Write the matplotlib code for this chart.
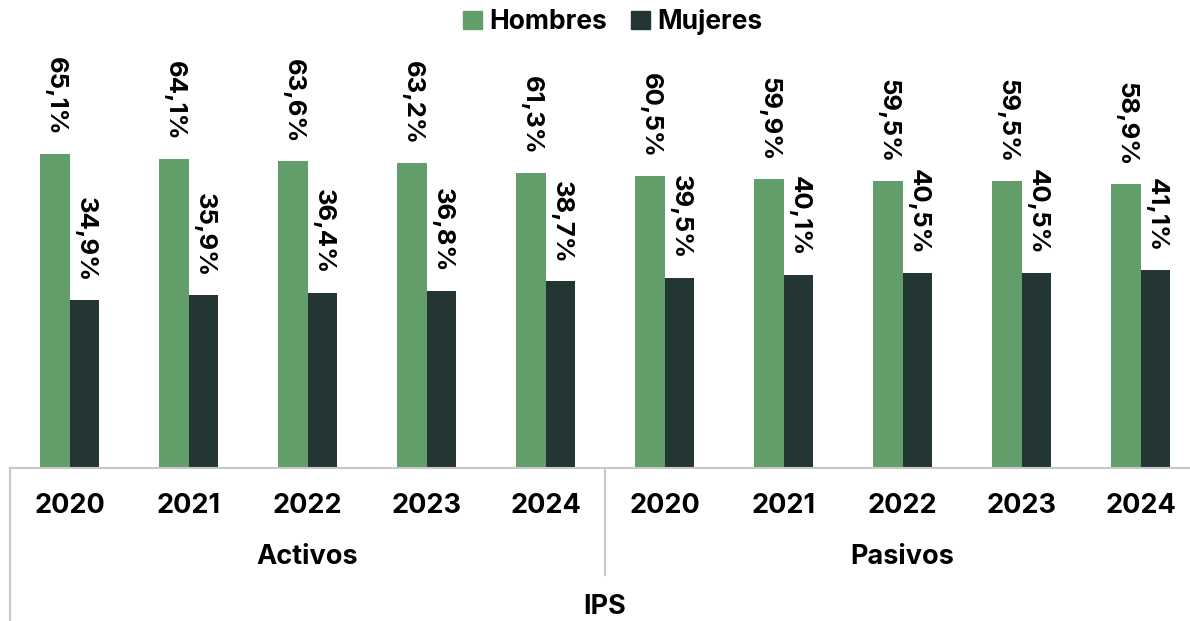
import matplotlib
matplotlib.use("Agg")
import matplotlib.pyplot as plt
import matplotlib.transforms as mtransforms
from matplotlib.lines import Line2D
from matplotlib.patches import Patch

plt.rcParams["font.family"] = ["Inter", "DejaVu Sans"]
plt.rcParams["font.weight"] = "bold"

# Data
years = ["2020", "2021", "2022", "2023", "2024"]
groups = ["Activos", "Pasivos"]
top_label = "IPS"
hombres = [65.1, 64.1, 63.6, 63.2, 61.3, 60.5, 59.9, 59.5, 59.5, 58.9]
mujeres = [34.9, 35.9, 36.4, 36.8, 38.7, 39.5, 40.1, 40.5, 40.5, 41.1]

C_H = "#629E69"
C_M = "#233633"
C_LINE = "#C8C8C8"

W, H = 1190, 621
fig = plt.figure(figsize=(W / 100, H / 100), dpi=100)


def fx(px):
    return px / W


def fy(py):
    return 1 - py / H


# axes: baseline at y=468 px, top at 40 px, x from 10 to 1200 px
ax = fig.add_axes([fx(10), fy(468), 1190 / W, (468 - 40) / H])
n = len(hombres)
x = list(range(n))
bw = 0.244
xh = [i - bw / 2 for i in x]
xm = [i + bw / 2 for i in x]
ax.bar(xh, hombres, width=bw, color=C_H, label="Hombres")
ax.bar(xm, mujeres, width=bw, color=C_M, label="Mujeres")
ax.set_xlim(-0.5, n - 0.5)
ax.set_ylim(0, 88.8)
ax.set_xticks([])
ax.set_yticks([])
for s in ["top", "left", "right"]:
    ax.spines[s].set_visible(False)
ax.spines["bottom"].set_color(C_LINE)
ax.spines["bottom"].set_linewidth(1.5)


def fmt(v):
    return f"{v:.1f}".replace(".", ",") + "%"


for xi, v in zip(xh, hombres):
    ax.annotate(fmt(v), (xi, v), xytext=(0, 18), textcoords="offset pixels",
                rotation=270, ha="center", va="bottom", fontsize=18.5,
                fontweight="bold", color="black")
for xi, v in zip(xm, mujeres):
    ax.annotate(fmt(v), (xi, v), xytext=(1, 18), textcoords="offset pixels",
                rotation=270, ha="center", va="bottom", fontsize=18.5,
                fontweight="bold", color="black")

# multi-level category axis
blend = mtransforms.blended_transform_factory(ax.transData, fig.transFigure)
labels = years + years
for i, lab in enumerate(labels):
    ax.text(i, fy(506), lab, transform=blend, ha="center", va="center",
            fontsize=19.5, fontweight="bold")

for gi, g in enumerate(groups):
    cx = gi * len(years) + (len(years) - 1) / 2
    ax.text(cx, fy(557), g, transform=blend, ha="center", va="center",
            fontsize=19.5, fontweight="bold")
ax.text((n - 1) / 2, fy(607), top_label, transform=blend, ha="center",
        va="center", fontsize=19.5, fontweight="bold")

# separators
for xs, ybot in [(-0.5, H), (len(years) - 0.5, 575), (n - 0.5, H)]:
    ax.add_line(Line2D([xs, xs], [fy(468), fy(ybot)], transform=blend,
                       color=C_LINE, linewidth=1.5, clip_on=False))

handles = [Patch(color=C_H, label="Hombres"), Patch(color=C_M, label="Mujeres")]
fig.legend(handles=handles, loc="center", bbox_to_anchor=(fx(613), fy(22)),
           ncol=2, frameon=False, handlelength=0.7,
           handleheight=0.7, handletextpad=0.3, columnspacing=0.9,
           prop={"weight": "bold", "size": 19})

fig.savefig("out.png", dpi=100)
